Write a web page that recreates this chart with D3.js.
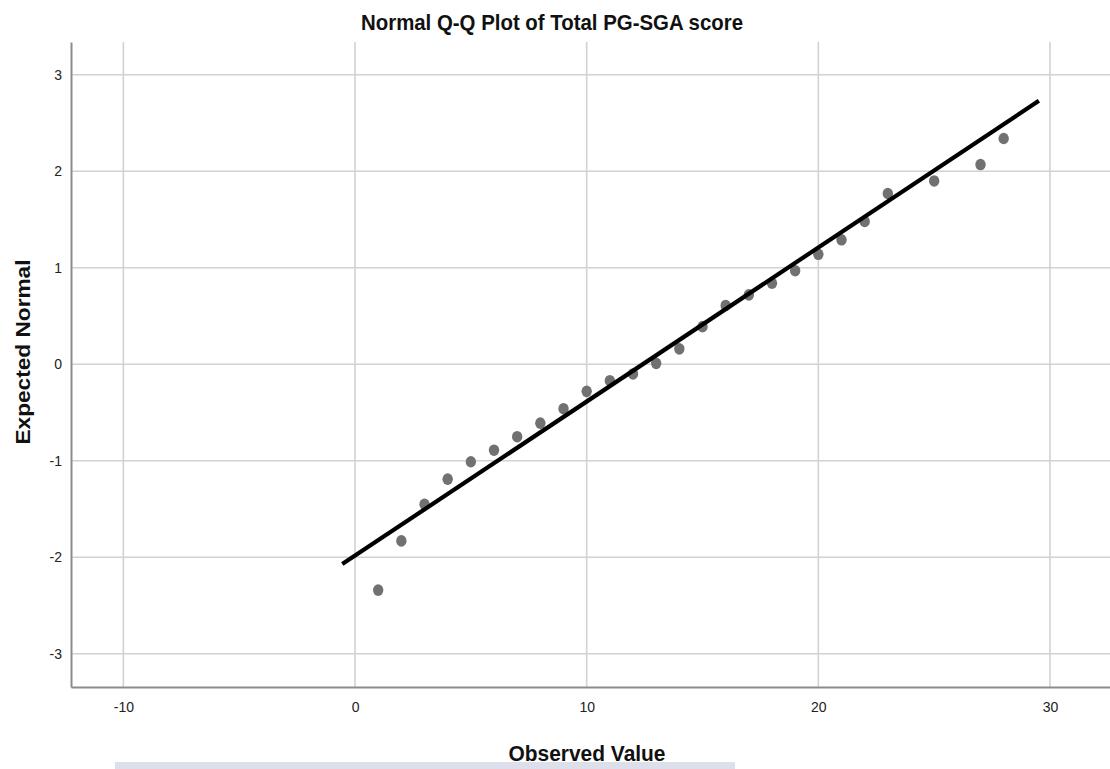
<!DOCTYPE html>
<html>
<head>
<meta charset="utf-8">
<script src="https://cdn.jsdelivr.net/npm/d3@7"></script>
<style>
  html, body { margin: 0; padding: 0; background: #fff; }
  svg { display: block; }
</style>
</head>
<body>
<svg id="chart" width="1110" height="769"></svg>
<script>
// Observed PG-SGA totals and their expected normal quantiles
const observed = [1, 2, 3, 4, 5, 6, 7, 8, 9, 10, 11, 12, 13, 14, 15, 16, 17, 18, 19, 20, 21, 22, 23, 25, 27, 28];
const expectedNormal = [-2.34, -1.83, -1.45, -1.19, -1.01, -0.89, -0.75, -0.61, -0.46, -0.28, -0.17, -0.10, 0.01, 0.16, 0.39, 0.61, 0.72, 0.84, 0.97, 1.14, 1.29, 1.48, 1.77, 1.90, 2.07, 2.34];

// Reference line end points (observed, expected)
const refLineX = [-0.55, 29.52];
const refLineY = [-2.07, 2.73];

const xTicks = [-10, 0, 10, 20, 30];
const yTicks = [-3, -2, -1, 0, 1, 2, 3];

const titleText = "Normal Q-Q Plot of Total PG-SGA score";
const xTitle = "Observed Value";
const yTitle = "Expected Normal";

const svg = d3.select("#chart");
const plotLeft = 71, plotRight = 1110, plotTop = 42, plotBottom = 687;

const x = d3.scaleLinear().domain([-12.26, 32.59]).range([plotLeft, plotRight]);
const y = d3.scaleLinear().domain([-3.344, 3.34]).range([plotBottom, plotTop]);

const sans = "'Liberation Sans', Arial, sans-serif";

// Grid lines
const grid = svg.append("g");
grid.selectAll("line.v").data(xTicks).join("line").attr("class", "v")
  .attr("x1", d => x(d)).attr("x2", d => x(d))
  .attr("y1", plotTop).attr("y2", plotBottom)
  .attr("stroke", "#d2d2d2").attr("stroke-width", 1.6);
grid.selectAll("line.h").data(yTicks).join("line").attr("class", "h")
  .attr("x1", plotLeft).attr("x2", plotRight)
  .attr("y1", d => y(d)).attr("y2", d => y(d))
  .attr("stroke", "#d2d2d2").attr("stroke-width", 1.6);

// Axes
const xAxis = svg.append("g").attr("transform", `translate(0,${plotBottom})`)
  .call(d3.axisBottom(x).tickValues(xTicks).tickFormat(d => String(d)).tickSize(0).tickPadding(15));
xAxis.select(".domain").attr("stroke", "#8c8c8c").attr("stroke-width", 2);
xAxis.selectAll("text").attr("font-family", sans).attr("font-size", 14).attr("fill", "#222");

const yAxis = svg.append("g").attr("transform", `translate(${plotLeft},0)`)
  .call(d3.axisLeft(y).tickValues(yTicks).tickFormat(d => String(d)).tickSize(0).tickPadding(9));
yAxis.select(".domain").attr("stroke", "#8c8c8c").attr("stroke-width", 2);
yAxis.selectAll("text").attr("font-family", sans).attr("font-size", 14).attr("fill", "#222");

// Points
svg.append("g").selectAll("ellipse")
  .data(observed.map((v, i) => ({ o: v, e: expectedNormal[i] })))
  .join("ellipse")
  .attr("cx", d => x(d.o)).attr("cy", d => y(d.e))
  .attr("rx", 5.2).attr("ry", 5.8)
  .attr("fill", "#717171");

// Reference line
svg.append("line")
  .attr("x1", x(refLineX[0])).attr("y1", y(refLineY[0]))
  .attr("x2", x(refLineX[1])).attr("y2", y(refLineY[1]))
  .attr("stroke", "#000").attr("stroke-width", 4.2);

// Titles
svg.append("text")
  .attr("x", 552).attr("y", 30).attr("text-anchor", "middle")
  .attr("font-family", sans).attr("font-weight", "bold").attr("font-size", 22).attr("fill", "#111")
  .attr("textLength", 382).attr("lengthAdjust", "spacingAndGlyphs")
  .text(titleText);

svg.append("text")
  .attr("transform", "translate(30,352) rotate(-90)")
  .attr("text-anchor", "middle")
  .attr("font-family", sans).attr("font-weight", "bold").attr("font-size", 21).attr("fill", "#111")
  .attr("textLength", 185).attr("lengthAdjust", "spacingAndGlyphs")
  .text(yTitle);

// Light band beneath the x title
svg.append("rect")
  .attr("x", 115).attr("y", 762).attr("width", 620).attr("height", 7)
  .attr("fill", "#dde0ea");

svg.append("text")
  .attr("x", 587).attr("y", 761).attr("text-anchor", "middle")
  .attr("font-family", sans).attr("font-weight", "bold").attr("font-size", 22).attr("fill", "#111")
  .attr("textLength", 157).attr("lengthAdjust", "spacingAndGlyphs")
  .text(xTitle);
</script>
</body>
</html>
